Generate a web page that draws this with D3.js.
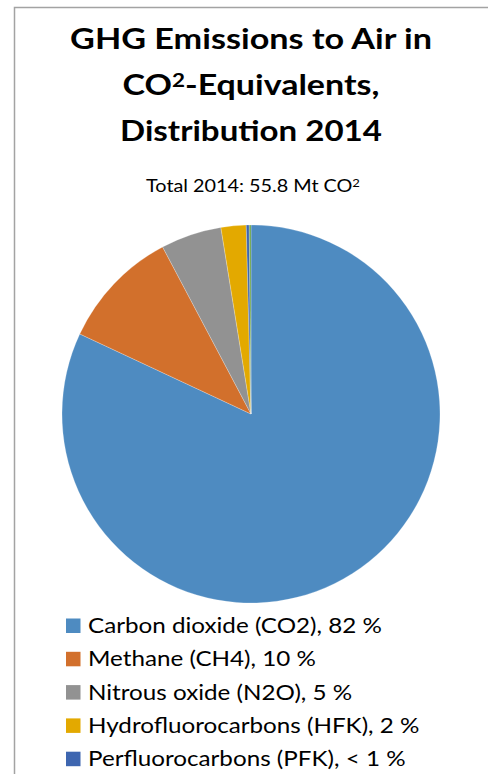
<!DOCTYPE html>
<html>
<head>
<meta charset="utf-8">
<script src="https://cdn.jsdelivr.net/npm/d3@7"></script>
<style>
  html, body { margin: 0; padding: 0; background: #fff; }
  svg { display: block; }
  text { font-family: Lato, "Open Sans", "Liberation Sans", sans-serif; fill: #000; }
</style>
</head>
<body>
<svg id="chart" width="488" height="774"></svg>
<script>
// ---- Data ----
const categories = [
  "Carbon dioxide (CO2)",
  "Methane (CH4)",
  "Nitrous oxide (N2O)",
  "Hydrofluorocarbons (HFK)",
  "Perfluorocarbons (PFK)",
  "Sulphur hexafluoride (SF6)"
];
const values = [82.0, 10.3, 5.2, 2.15, 0.25, 0.15];
const shareLabels = ["82 %", "10 %", "5 %", "2 %", "< 1 %", "< 1 %"];
const colors = ["#4E8BC1", "#D2702C", "#929292", "#E3A900", "#3E66B0", "#66A044"];
const titleLines = ["GHG Emissions to Air in", "CO|2|-Equivalents,", "Distribution 2014"];
const subtitle = "Total 2014: 55.8 Mt CO|2|";
const legendCount = 5; // entries visible in the frame

// ---- Layout ----
const svg = d3.select("#chart");
const cx = 251, cy = 414, R = 189;

// frame
svg.append("rect")
  .attr("x", 14.5).attr("y", 7.5)
  .attr("width", 600).attr("height", 900)
  .attr("fill", "none").attr("stroke", "#a3a3a3").attr("stroke-width", 1.5);

// place a text at (x,y) with given font-size, then squeeze horizontally to target width
function placeText(parent, x, y, fs, anchor, target, weight, build) {
  const g = parent.append("g").attr("transform", `translate(${x},${y})`);
  const t = g.append("text").attr("x", 0).attr("y", 0)
    .attr("text-anchor", anchor).attr("font-size", fs);
  if (weight) t.attr("font-weight", weight);
  build(t);
  const len = t.node().getComputedTextLength();
  const sx = target / len;
  g.attr("transform", `translate(${x},${y}) scale(${sx.toFixed(4)},1)`);
  return t;
}

function writeWithSup(sel, str) {
  const parts = str.split("|");
  parts.forEach((p, i) => {
    if (p === "") return;
    if (i % 2 === 1) {
      sel.append("tspan").attr("font-size", "0.66em").attr("dy", "-0.42em").text(p);
    } else {
      const t = sel.append("tspan").text(p);
      if (i > 0) t.attr("dy", "0.277em");
    }
  });
}

// title
const titleBaselines = [49, 95, 141];
const titleWidths = [362, 257, 262];
titleLines.forEach((line, i) => {
  placeText(svg, cx, titleBaselines[i], 29.5, "middle", titleWidths[i], "bold",
    t => writeWithSup(t, line));
});

// subtitle
placeText(svg, 253, 192, 17.5, "middle", 214, null, t => writeWithSup(t, subtitle));

// pie
const pie = d3.pie().sort(null).value(d => d.v);
const arc = d3.arc().innerRadius(0).outerRadius(R);
const data = categories.map((c, i) => ({ c, v: values[i], col: colors[i], lab: shareLabels[i] }));
const g = svg.append("g").attr("transform", `translate(${cx},${cy})`);
g.selectAll("path").data(pie(data)).join("path")
  .attr("d", arc)
  .attr("fill", d => d.data.col)
  .attr("stroke", "#ffffff")
  .attr("stroke-width", 0.4)
  .attr("stroke-opacity", 0.6);

// legend
const legY0 = 626, legDy = 33.3;
const legData = data.slice(0, legendCount);
const items = svg.append("g").selectAll("g").data(legData).join("g")
  .attr("transform", (d, i) => `translate(66,${legY0 + i * legDy})`);
items.append("rect")
  .attr("x", 0).attr("y", -7.5).attr("width", 14.5).attr("height", 14.5)
  .attr("fill", d => d.col);
// common horizontal squeeze derived from first entry's reference width
const legFs = 20.5;
const probe = svg.append("text").attr("font-size", legFs).text(`${legData[0].c}, ${legData[0].lab}`);
const legSx = 294 / probe.node().getComputedTextLength();
probe.remove();
items.append("g")
  .attr("transform", `translate(22,7) scale(${legSx.toFixed(4)},1)`)
  .append("text")
  .attr("font-size", legFs)
  .text(d => `${d.c}, ${d.lab}`);
</script>
</body>
</html>
